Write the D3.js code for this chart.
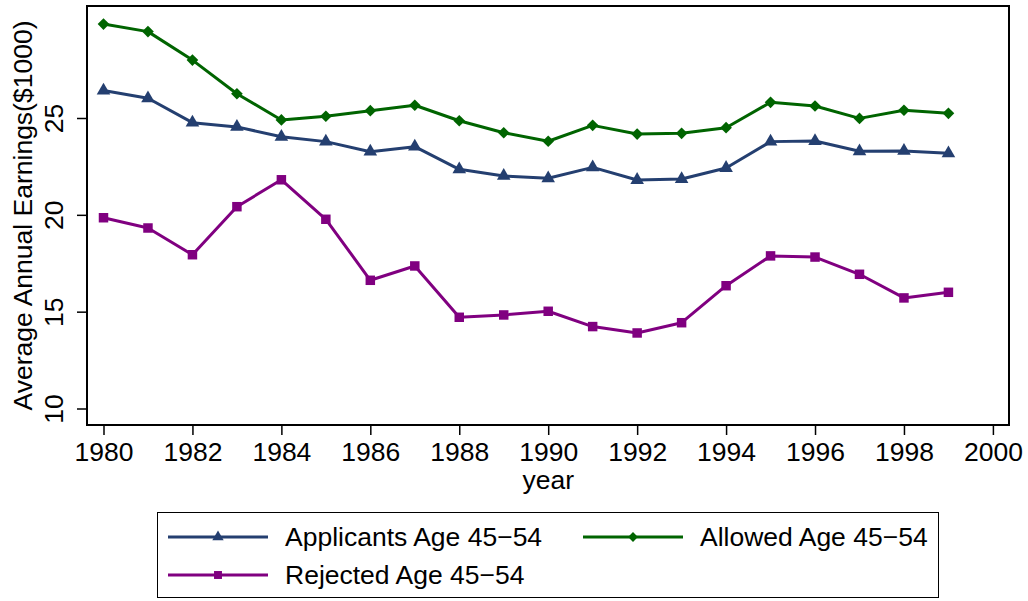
<!DOCTYPE html>
<html>
<head>
<meta charset="utf-8">
<script src="https://cdn.jsdelivr.net/npm/d3@7"></script>
<style>
  body { margin: 0; background: #fff; }
  text { font-family: "Liberation Sans", Arial, Helvetica, sans-serif; fill: #000; }
</style>
</head>
<body>
<svg id="chart" width="1028" height="601"></svg>
<script>
const years = d3.range(1980, 2000);
const applicants = [26.42, 26.02, 24.76, 24.54, 24.03, 23.78, 23.26, 23.52, 22.35, 22.01,
                    21.89, 22.45, 21.80, 21.85, 22.42, 23.78, 23.81, 23.28, 23.30, 23.18];
const allowed = [29.85, 29.46, 27.99, 26.25, 24.90, 25.09, 25.38, 25.66, 24.86, 24.24,
                 23.80, 24.62, 24.17, 24.21, 24.50, 25.81, 25.62, 24.98, 25.40, 25.24];
const rejected = [19.85, 19.32, 17.94, 20.42, 21.81, 19.77, 16.62, 17.36, 14.71, 14.83,
                  15.02, 14.23, 13.90, 14.43, 16.34, 17.88, 17.82, 16.93, 15.71, 16.00];
const xTicks = [1980, 1982, 1984, 1986, 1988, 1990, 1992, 1994, 1996, 1998, 2000];
const yTicks = [10, 15, 20, 25];

// diamond = square turned 45deg
const series = [
  { name: "Applicants Age 45\u221254", values: applicants, color: "#243f70", symbol: d3.symbolTriangle, size: 80, rot: 0 },
  { name: "Allowed Age 45\u221254", values: allowed, color: "#006400", symbol: d3.symbolSquare, size: 68, rot: 45 },
  { name: "Rejected Age 45\u221254", values: rejected, color: "#800080", symbol: d3.symbolSquare, size: 90, rot: 0 },
];

const margin = { top: 6, right: 19, bottom: 176, left: 87 };
const width = 1028 - margin.left - margin.right;
const height = 601 - margin.top - margin.bottom;
const fs = 26.5;

const svg = d3.select("#chart");
const g = svg.append("g").attr("transform", `translate(${margin.left},${margin.top})`);

const x = d3.scaleLinear().domain([1979.629, 2000.362]).range([0, width]);
const y = d3.scaleLinear().domain([9.148, 30.783]).range([height, 0]);

// axes
const xAxis = g.append("g")
  .attr("transform", `translate(0,${height})`)
  .call(d3.axisBottom(x).tickValues(xTicks).tickFormat(d3.format("d")).tickSize(10));
xAxis.select(".domain").remove();
xAxis.selectAll("line").attr("stroke", "#000").attr("stroke-width", 1.5);
xAxis.selectAll("text").attr("font-size", fs).attr("dy", null).attr("y", 36);

const yAxis = g.append("g")
  .call(d3.axisLeft(y).tickValues(yTicks).tickSize(10));
yAxis.select(".domain").remove();
yAxis.selectAll("line").attr("stroke", "#000").attr("stroke-width", 1.5);
yAxis.selectAll("text")
  .attr("font-size", fs)
  .attr("x", null).attr("dy", null)
  .attr("text-anchor", "middle")
  .attr("transform", "translate(-24,0) rotate(-90)");

// frame
g.append("rect")
  .attr("width", width).attr("height", height)
  .attr("fill", "none").attr("stroke", "#000").attr("stroke-width", 2);

// axis titles
svg.append("text")
  .attr("x", margin.left + x(1990)).attr("y", 489)
  .attr("text-anchor", "middle").attr("font-size", fs)
  .text("year");
svg.append("text")
  .attr("transform", `translate(32,${margin.top + height / 2}) rotate(-90)`)
  .attr("text-anchor", "middle").attr("font-size", fs)
  .text("Average Annual Earnings($1000)");

// lines + markers
const line = d3.line().x((d, i) => x(years[i])).y(d => y(d));
series.forEach(s => {
  g.append("path")
    .datum(s.values)
    .attr("d", line)
    .attr("fill", "none")
    .attr("stroke", s.color)
    .attr("stroke-width", 3)
    .attr("stroke-linejoin", "round");
  g.selectAll(null)
    .data(s.values)
    .join("path")
    .attr("d", d3.symbol().type(s.symbol).size(s.size))
    .attr("transform", (d, i) => `translate(${x(years[i])},${y(d)}) rotate(${s.rot})`)
    .attr("fill", s.color);
});

// legend
const legend = svg.append("g");
legend.append("rect")
  .attr("x", 157.5).attr("y", 512.5).attr("width", 781).attr("height", 85)
  .attr("fill", "#fff").attr("stroke", "#000").attr("stroke-width", 1);
const legendPos = [
  { x: 168, y: 537 },
  { x: 583, y: 537 },
  { x: 168, y: 575 },
];
series.forEach((s, i) => {
  const p = legendPos[i];
  const lg = legend.append("g").attr("transform", `translate(${p.x},${p.y})`);
  lg.append("line").attr("x1", 0).attr("x2", 100)
    .attr("stroke", s.color).attr("stroke-width", 3);
  lg.append("path")
    .attr("d", d3.symbol().type(s.symbol).size(s.size * 0.7))
    .attr("transform", `translate(50,0) rotate(${s.rot})`)
    .attr("fill", s.color);
  lg.append("text")
    .attr("x", 117).attr("y", 9)
    .attr("font-size", fs)
    .text(s.name);
});
</script>
</body>
</html>
